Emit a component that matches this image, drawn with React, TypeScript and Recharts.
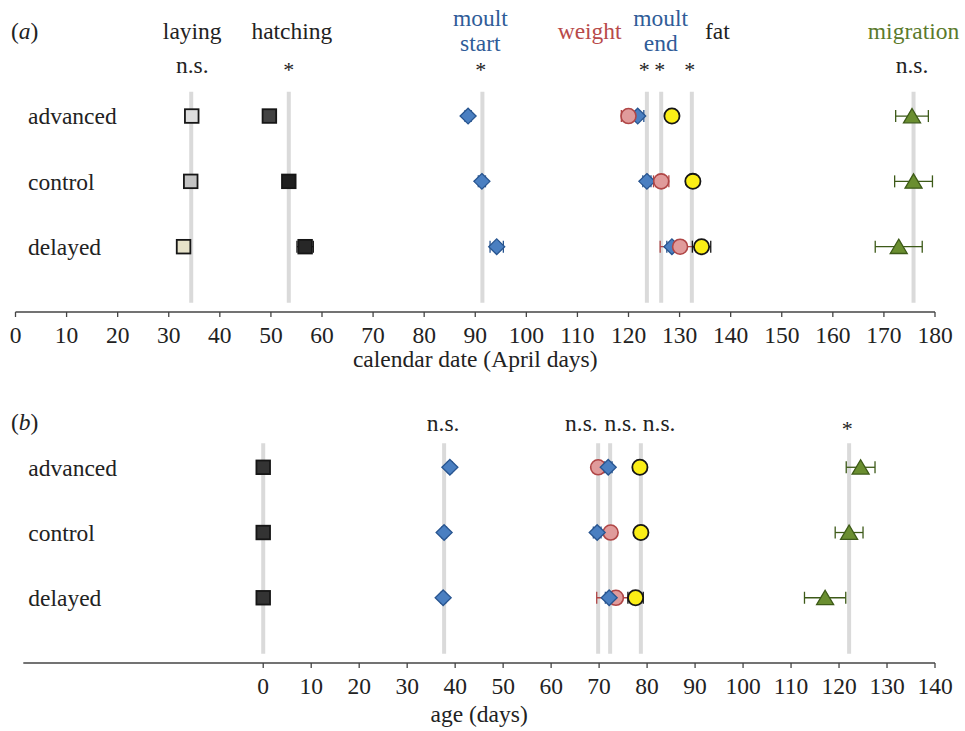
import { ScatterChart, Scatter, XAxis, YAxis, ErrorBar, ReferenceLine, ReferenceDot, Cell } from "recharts";

const font = '"Liberation Serif", "Times New Roman", serif';
const FS = 23.5;
const groups = ["advanced", "control", "delayed"];

// (a) calendar date (April days)
const layingDate = [34.5, 34.3, 32.9];
const layingDateErr = [0.7, 0.8, 0.8];
const hatchingDate = [49.7, 53.5, 56.7];
const hatchingDateErr = [0.6, 0.8, 1.6];
const moultStartDate = [88.6, 91.3, 94.2];
const moultStartDateErr = [0.6, 0.7, 1.3];
const weightDate = [120.0, 126.4, 130.1];
const weightDateErr = [1.4, 1.5, 3.9];
const moultEndDate = [121.8, 123.6, 128.5];
const moultEndDateErr = [1.2, 0.8, 1.0];
const fatDate = [128.5, 132.6, 134.3];
const fatDateErr = [0.6, 0.6, 1.8];
const migrationDate = [175.5, 175.8, 172.9];
const migrationDateErr = [3.2, 3.7, 4.6];
const meanLinesDate = [34.4, 53.5, 91.4, 123.6, 126.4, 132.4, 175.8];
const dateTicks = [0, 10, 20, 30, 40, 50, 60, 70, 80, 90, 100, 110, 120, 130, 140, 150, 160, 170, 180];

// (b) age (days)
const hatchingAge = [0, 0, 0];
const moultStartAge = [38.9, 37.7, 37.5];
const moultStartAgeErr = [0.5, 0.5, 0.5];
const weightAge = [69.8, 72.4, 73.5];
const weightAgeErr = [0.8, 0.8, 4.0];
const moultEndAge = [71.9, 69.6, 72.1];
const moultEndAgeErr = [0.8, 0.8, 0.8];
const fatAge = [78.5, 78.7, 77.6];
const fatAgeErr = [0.5, 0.6, 1.6];
const migrationAge = [124.5, 122.1, 117.1];
const migrationAgeErr = [3.0, 2.9, 4.3];
const meanLinesAge = [0, 37.7, 69.8, 72.3, 78.7, 122.1];
const ageTicks = [0, 10, 20, 30, 40, 50, 60, 70, 80, 90, 100, 110, 120, 130, 140];

const layingFills = ["#dedede", "#c3c3c3", "#e6e2c9"];
const hatchingFills = ["#424242", "#1f1f1f", "#272727"];

// header texts: [text, x anchor, header row, colour]
const BLUE = "#2f5c98";
const RED = "#b84a4a";
const GREEN = "#5b7a2c";
const INK = "#222";
const headersDate: [string, number, string, string][] = [
  ["laying", 34.6, "mid", INK],
  ["hatching", 54.1, "mid", INK],
  ["moult", 91.0, "top", BLUE],
  ["start", 91.0, "low", BLUE],
  ["weight", 112.4, "mid", RED],
  ["moult", 126.3, "top", BLUE],
  ["end", 126.3, "low", BLUE],
  ["fat", 137.4, "mid", INK],
  ["migration", 175.8, "mid", GREEN],
  ["n.s.", 34.6, "sig", INK],
  ["*", 53.5, "star", INK],
  ["*", 91.1, "star", INK],
  ["*", 123.1, "star", INK],
  ["*", 126.1, "star", INK],
  ["*", 132.0, "star", INK],
  ["n.s.", 175.5, "sig", INK],
];
const headersAge: [string, number, string, string][] = [
  ["n.s.", 37.5, "sig", INK],
  ["n.s.", 66.3, "sig", INK],
  ["n.s.", 74.5, "sig", INK],
  ["n.s.", 82.5, "sig", INK],
  ["*", 121.7, "star", INK],
];
const headerRowA: Record<string, number> = { top: 4.5, mid: 4.3, low: 4.12, sig: 3.78, star: 3.72 };
const headerRowB: Record<string, number> = { sig: 3.68, star: 3.6 };

const rows = (vals: number[], errs?: number[]) =>
  vals.map((x, i) => ({ x, y: groups.length - i, err: errs ? errs[i] : 0 }));

const square = (p: any) => (
  <rect x={p.cx - 6.8} y={p.cy - 6.8} width={13.6} height={13.6} fill={p.fill} stroke="#161616" strokeWidth={1.8} />
);
const diamond = (p: any) => (
  <polygon
    points={`${p.cx},${p.cy - 7.8} ${p.cx + 8},${p.cy} ${p.cx},${p.cy + 7.8} ${p.cx - 8},${p.cy}`}
    fill="#4a7fc1"
    stroke="#285590"
    strokeWidth={1.3}
  />
);
const pinkCircle = (p: any) => <circle cx={p.cx} cy={p.cy} r={7.5} fill="#e09b9b" stroke="#b04646" strokeWidth={1.6} />;
const yellowCircle = (p: any) => <circle cx={p.cx} cy={p.cy} r={7.6} fill="#fbee16" stroke="#161616" strokeWidth={1.8} />;
const triangle = (p: any) => (
  <polygon
    points={`${p.cx},${p.cy - 7.5} ${p.cx + 8.5},${p.cy + 6.8} ${p.cx - 8.5},${p.cy + 6.8}`}
    fill="#6a8e30"
    stroke="#3d5a18"
    strokeWidth={1.3}
  />
);

const tickStyle = { fontSize: FS, fill: INK, fontFamily: font };

const guide = (x: number) => (
  <ReferenceLine
    key={`g${x}`}
    segment={[{ x, y: 0.14 }, { x, y: 3.37 }]}
    stroke="#dadada"
    strokeWidth={4}
  />
);

const header = (rowMap: Record<string, number>) => ([text, x, row, color]: [string, number, string, string], i: number) => (
  <ReferenceDot
    key={`h${i}`}
    x={x}
    y={rowMap[row]}
    r={0}
    fill="none"
    stroke="none"
    label={{ value: text, position: "center", fill: color, fontSize: text === "*" ? 22 : FS, fontFamily: font }}
  />
);

const bar = (color: string) => (
  <ErrorBar dataKey="err" direction="x" width={6} stroke={color} strokeWidth={1.3} />
);

export default function App() {
  return (
    <div style={{ position: "absolute", left: 0, top: 0, width: 965, height: 731, background: "#fff", fontFamily: font }}>
      <div style={{ position: "absolute", left: 11, top: 18, fontSize: FS, lineHeight: "27px", color: INK }}>
        (<i>a</i>)
      </div>
      <div style={{ position: "absolute", left: 11, top: 409, fontSize: FS, lineHeight: "27px", color: INK }}>
        (<i>b</i>)
      </div>

      <div style={{ position: "absolute", left: 0, top: 0 }}>
        <ScatterChart width={965} height={372} margin={{ top: 5, right: 30, bottom: 0, left: 15.5 }}>
          <XAxis
            type="number"
            dataKey="x"
            domain={[0, 180]}
            ticks={dateTicks}
            interval={0}
            allowDataOverflow
            height={60}
            tickSize={5}
            tickMargin={9}
            tick={tickStyle}
            stroke="#444"
            strokeWidth={1.3}
            label={{ value: "calendar date (April days)", position: "insideBottom", offset: 5, fill: INK, fontSize: FS, fontFamily: font }}
          />
          <YAxis
            type="number"
            dataKey="y"
            domain={[0, 4.7]}
            ticks={[1, 2, 3]}
            allowDataOverflow
            mirror
            axisLine={false}
            tickLine={false}
            tickSize={0}
            tickMargin={12.5}
            tick={tickStyle}
            tickFormatter={(v: number) => groups[groups.length - v]}
          />
          {meanLinesDate.map(guide)}
          <Scatter data={rows(layingDate, layingDateErr)} shape={square} isAnimationActive={false}>
            {bar("#161616")}
            {layingFills.map((c, i) => <Cell key={i} fill={c} />)}
          </Scatter>
          <Scatter data={rows(hatchingDate, hatchingDateErr)} shape={square} isAnimationActive={false}>
            {bar("#161616")}
            {hatchingFills.map((c, i) => <Cell key={i} fill={c} />)}
          </Scatter>
          <Scatter data={rows(moultStartDate, moultStartDateErr)} shape={diamond} isAnimationActive={false}>
            {bar("#285590")}
          </Scatter>
          <Scatter data={rows(moultEndDate, moultEndDateErr)} shape={diamond} isAnimationActive={false}>
            {bar("#285590")}
          </Scatter>
          <Scatter data={rows(weightDate, weightDateErr)} shape={pinkCircle} isAnimationActive={false}>
            {bar("#b04646")}
          </Scatter>
          <Scatter data={rows(fatDate, fatDateErr)} shape={yellowCircle} isAnimationActive={false}>
            {bar("#161616")}
          </Scatter>
          <Scatter data={rows(migrationDate, migrationDateErr)} shape={triangle} isAnimationActive={false}>
            {bar("#3d5a18")}
          </Scatter>
          {headersDate.map(header(headerRowA))}
        </ScatterChart>
      </div>

      <div style={{ position: "absolute", left: 0, top: 380 }}>
        <ScatterChart width={965} height={351} margin={{ top: 9, right: 30, bottom: 0, left: 23.3 }}>
          <XAxis
            type="number"
            dataKey="x"
            domain={[-50, 140]}
            ticks={ageTicks}
            interval={0}
            allowDataOverflow
            height={68}
            tickSize={5}
            tickMargin={9}
            tick={tickStyle}
            stroke="#444"
            strokeWidth={1.3}
            label={{ value: "age (days)", position: "insideBottom", offset: 9, fill: INK, fontSize: FS, fontFamily: font }}
          />
          <YAxis
            type="number"
            dataKey="y"
            domain={[0, 4.2]}
            ticks={[1, 2, 3]}
            allowDataOverflow
            mirror
            axisLine={false}
            tickLine={false}
            tickSize={0}
            tickMargin={5}
            tick={tickStyle}
            tickFormatter={(v: number) => groups[groups.length - v]}
          />
          {meanLinesAge.map(guide)}
          <Scatter data={rows(hatchingAge)} shape={square} fill="#333333" isAnimationActive={false} />
          <Scatter data={rows(moultStartAge, moultStartAgeErr)} shape={diamond} isAnimationActive={false}>
            {bar("#285590")}
          </Scatter>
          <Scatter data={rows(weightAge, weightAgeErr)} shape={pinkCircle} isAnimationActive={false}>
            {bar("#b04646")}
          </Scatter>
          <Scatter data={rows(moultEndAge, moultEndAgeErr)} shape={diamond} isAnimationActive={false}>
            {bar("#285590")}
          </Scatter>
          <Scatter data={rows(fatAge, fatAgeErr)} shape={yellowCircle} isAnimationActive={false}>
            {bar("#161616")}
          </Scatter>
          <Scatter data={rows(migrationAge, migrationAgeErr)} shape={triangle} isAnimationActive={false}>
            {bar("#3d5a18")}
          </Scatter>
          {headersAge.map(header(headerRowB))}
        </ScatterChart>
      </div>
    </div>
  );
}
